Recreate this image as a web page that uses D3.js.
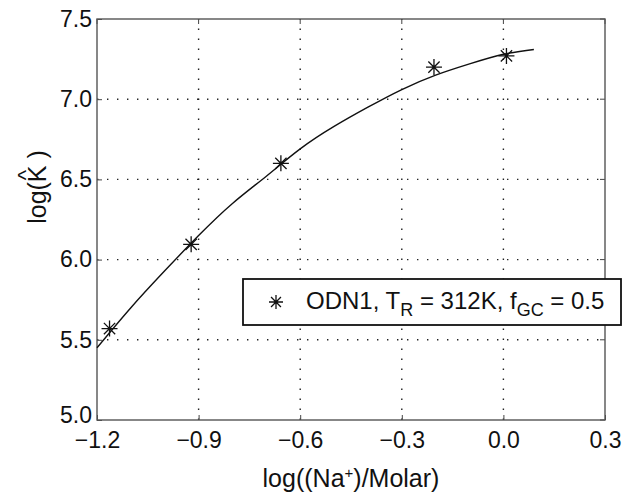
<!DOCTYPE html>
<html>
<head>
<meta charset="utf-8">
<script src="https://cdn.jsdelivr.net/npm/d3@7.9.0/dist/d3.min.js"></script>
<style>
  body { margin: 0; background: #fff; }
  svg { display: block; font-family: "Liberation Sans", Arial, sans-serif; }
</style>
</head>
<body>
<svg id="chart" width="623" height="497"></svg>
<script>
// measured points
const pointX = [-1.163, -0.922, -0.657, -0.205, 0.009];
const pointY = [5.57, 6.095, 6.60, 7.20, 7.27];

// fitted curve
const curveX = [-1.2, -1.1, -1.0, -0.9, -0.8, -0.7, -0.6, -0.5, -0.4, -0.3, -0.2, -0.1, 0.0, 0.09];
const curveY = [5.45, 5.70, 5.93, 6.15, 6.35, 6.52, 6.69, 6.83, 6.95, 7.06, 7.15, 7.22, 7.28, 7.31];

const xTicks = [-1.2, -0.9, -0.6, -0.3, 0.0, 0.3];
const yTicks = [5.0, 5.5, 6.0, 6.5, 7.0, 7.5];

const svg = d3.select('#chart');
const plotL = 97, plotR = 605, plotT = 19, plotB = 420;

const x = d3.scaleLinear().domain([-1.2, 0.3]).range([plotL, plotR]);
const y = d3.scaleLinear().domain([5.0, 7.5]).range([plotB, plotT]);
const fmt = d3.format('.1f');

// grid
const grid = svg.append('g')
    .attr('stroke', '#222')
    .attr('stroke-width', 1.4)
    .attr('stroke-dasharray', '1.4,8.6');

xTicks.slice(1, -1).forEach((t) => {
    grid.append('line')
        .attr('x1', x(t)).attr('x2', x(t))
        .attr('y1', plotB).attr('y2', plotT);
});
yTicks.slice(1, -1).forEach((t) => {
    grid.append('line')
        .attr('x1', plotL).attr('x2', plotR)
        .attr('y1', y(t)).attr('y2', y(t));
});

// axes
const xAxis = d3.axisBottom(x).tickValues(xTicks).tickFormat(fmt).tickSizeInner(-5).tickSizeOuter(0).tickPadding(12);
const yAxis = d3.axisLeft(y).tickValues(yTicks).tickFormat(fmt).tickSizeInner(-5).tickSizeOuter(0).tickPadding(5);

const gx = svg.append('g').attr('transform', `translate(0,${plotB})`).call(xAxis);
const gy = svg.append('g').attr('transform', `translate(${plotL},0)`).call(yAxis);

[gx, gy].forEach((g) => {
    g.select('.domain').remove();
    g.selectAll('line').attr('stroke', '#444');
    g.selectAll('text').attr('font-size', 23).attr('fill', '#111');
});
// the bottom label sits a little high so it clears the -1.2 below it
gy.selectAll('text').attr('dy', (d) => (d === yTicks[0] ? '0.1em' : '0.32em'));

// top and right ticks
svg.append('g').selectAll('line').data(xTicks).join('line')
    .attr('x1', (d) => x(d)).attr('x2', (d) => x(d))
    .attr('y1', plotT).attr('y2', plotT + 5)
    .attr('stroke', '#444');
svg.append('g').selectAll('line').data(yTicks).join('line')
    .attr('x1', plotR).attr('x2', plotR - 5)
    .attr('y1', (d) => y(d)).attr('y2', (d) => y(d))
    .attr('stroke', '#444');

svg.append('rect')
    .attr('x', plotL).attr('y', plotT)
    .attr('width', plotR - plotL).attr('height', plotB - plotT)
    .attr('fill', 'none')
    .attr('stroke', '#555')
    .attr('stroke-width', 1.4);

// curve
const line = d3.line()
    .x((d) => x(d[0]))
    .y((d) => y(d[1]))
    .curve(d3.curveNatural);

svg.append('path')
    .datum(curveX.map((v, i) => [v, curveY[i]]))
    .attr('d', line)
    .attr('fill', 'none')
    .attr('stroke', '#111')
    .attr('stroke-width', 1.4);

// asterisk markers
function star(g, cx, cy, r) {
    const d = [0, 45, 90, 135].map((a) => {
        const rad = a * Math.PI / 180;
        const dx = r * Math.cos(rad), dy = r * Math.sin(rad);
        return `M${cx - dx},${cy - dy}L${cx + dx},${cy + dy}`;
    }).join('');
    g.append('path').attr('d', d).attr('stroke', '#111').attr('stroke-width', 1.3).attr('fill', 'none');
}

const marks = svg.append('g');
pointX.forEach((v, i) => star(marks, x(v), y(pointY[i]), 8));

// legend
const leg = svg.append('g');
leg.append('rect')
    .attr('x', 243).attr('y', 279)
    .attr('width', 378).attr('height', 46)
    .attr('fill', '#fff')
    .attr('stroke', '#111')
    .attr('stroke-width', 1.8);
star(leg, 276, 302, 7);

const lt = leg.append('text')
    .attr('x', 306).attr('y', 309)
    .attr('font-size', 24)
    .attr('fill', '#111');
lt.append('tspan').text('ODN1, T');
lt.append('tspan').attr('font-size', 18).attr('dy', 7).text('R');
lt.append('tspan').attr('dy', -7).text(' = 312K, f');
lt.append('tspan').attr('font-size', 18).attr('dy', 7).text('GC');
lt.append('tspan').attr('dy', -7).text(' = 0.5');

// axis labels
const xl = svg.append('text')
    .attr('x', (plotL + plotR) / 2).attr('y', 487)
    .attr('text-anchor', 'middle')
    .attr('font-size', 25)
    .attr('fill', '#111');
xl.append('tspan').text('log((Na');
xl.append('tspan').attr('font-size', 15).attr('dy', -9).text('+');
xl.append('tspan').attr('dy', 9).text(')/Molar)');

const yg = svg.append('g').attr('transform', 'translate(46,187) rotate(-90)');
yg.append('text')
    .attr('text-anchor', 'middle')
    .attr('font-size', 25)
    .attr('fill', '#111')
    .text('log(K )');
yg.append('text')
    .attr('x', 12).attr('y', -13)
    .attr('text-anchor', 'middle')
    .attr('font-size', 22)
    .attr('fill', '#111')
    .text('^');
</script>
</body>
</html>
